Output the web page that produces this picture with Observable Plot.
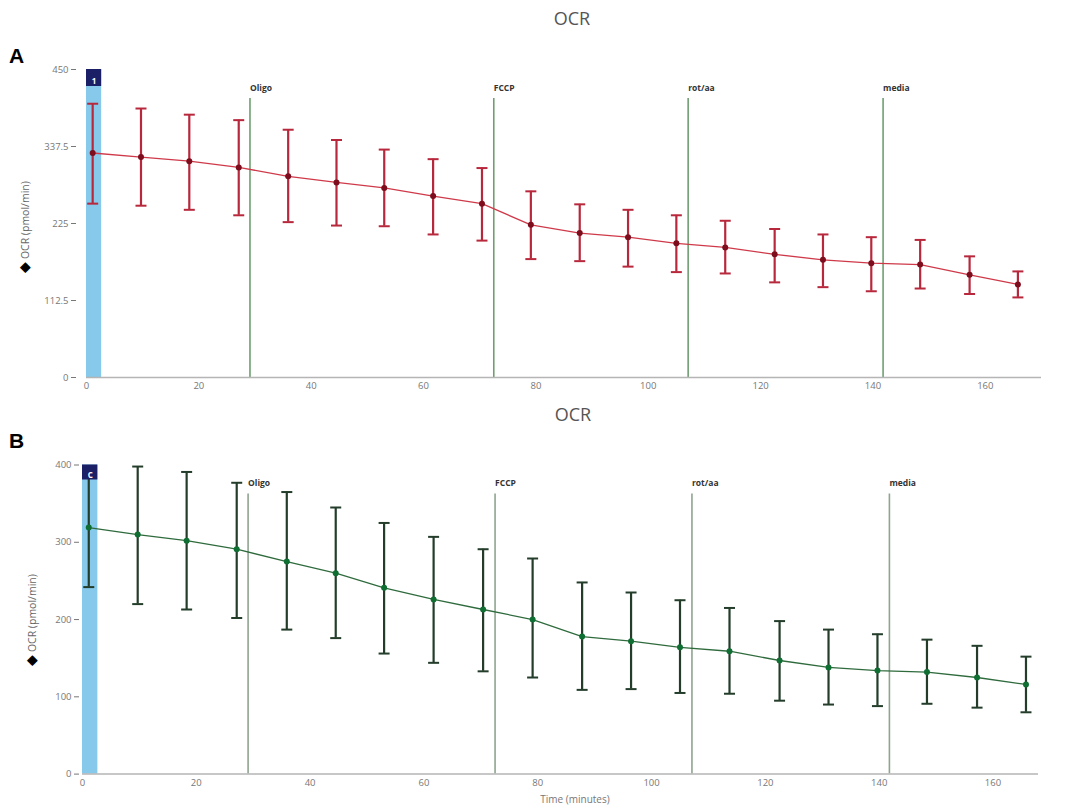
<!DOCTYPE html>
<html>
<head>
<meta charset="utf-8">
<script src="https://cdn.jsdelivr.net/npm/d3@7"></script>
<script src="https://cdn.jsdelivr.net/npm/@observablehq/plot@0.6"></script>
<style>
  html, body { margin: 0; padding: 0; background: #fff; }
  #page { position: relative; width: 1068px; height: 807px; overflow: hidden; font-family: "Open Sans", sans-serif; }
  .abs { position: absolute; white-space: nowrap; }
  .title { font-size: 18px; color: #555; text-align: center; width: 100px; line-height: 1; }
  .letter { font-family: "Liberation Sans", Arial, sans-serif; font-weight: bold; font-size: 21px; color: #000; line-height: 1; }
  .ylab { font-size: 10.5px; color: #666; transform: rotate(-90deg); transform-origin: center center; width: 160px; text-align: center; line-height: 1; }
  .ylab b { color: #000; font-size: 14px; font-weight: normal; }
  .xlab { font-size: 10px; color: #777; width: 200px; text-align: center; line-height: 1; }
</style>
</head>
<body>
<div id="page">
  <div id="panelA" class="abs" style="left:0;top:0;width:1068px;height:395px;"></div>
  <div id="panelB" class="abs" style="left:0;top:390px;width:1068px;height:417px;"></div>
  <div class="abs title" style="left:522px;top:9px;">OCR</div>
  <div class="abs title" style="left:523px;top:405px;">OCR</div>
  <div class="abs letter" style="left:9px;top:45px;">A</div>
  <div class="abs letter" style="left:9px;top:430px;">B</div>
  <div class="abs ylab" style="left:-56px;top:220px;"><b>◆</b> OCR (pmol/min)</div>
  <div class="abs ylab" style="left:-49px;top:613px;"><b>◆</b> OCR (pmol/min)</div>
  <div class="abs xlab" style="left:475px;top:794px;">Time (minutes)</div>
</div>
<script>
// ---- data ----
const times = [1.1, 9.7, 18.3, 27.1, 35.9, 44.5, 53.0, 61.7, 70.4, 79.1, 87.8, 96.4, 105.0, 113.7, 122.5, 131.1, 139.7, 148.4, 157.2, 165.8];

const ocrA = [328, 322, 316, 307, 294, 285, 277, 265, 254, 223, 211, 205, 196, 190, 180, 172, 167, 165, 150, 136];
const hiA  = [400, 393, 384, 376, 362, 347, 333, 319, 306, 272, 253, 245, 237, 229, 217, 209, 205, 201, 177, 155];
const loA  = [254, 251, 245, 237, 227, 222, 221, 209, 200, 173, 170, 162, 154, 152, 139, 132, 126, 130, 122, 117];

const ocrB = [319, 310, 302, 291, 275, 260, 241, 226, 213, 200, 178, 172, 164, 159, 147, 138, 134, 132, 125, 116];
const hiB  = [396, 398, 391, 377, 365, 345, 325, 307, 291, 279, 248, 235, 225, 215, 198, 187, 181, 174, 166, 152];
const loB  = [242, 220, 213, 202, 187, 176, 156, 144, 133, 125, 109, 110, 105, 104, 95, 90, 88, 91, 86, 80];

const eventTimes = [29.1, 72.5, 107.1, 141.8];
const eventLabels = ["Oligo", "FCCP", "rot/aa", "media"];

const xTicks = [0, 20, 40, 60, 80, 100, 120, 140, 160];
const yTicksA = [0, 112.5, 225, 337.5, 450];
const yTicksB = [0, 100, 200, 300, 400];

const injectionBand = [{start: 0, end: 2.7}];
const groupLabelA = "1";
const groupLabelB = "C";

// ---- helpers ----
const capSymbol = {
  draw(ctx, size) {
    const r = Math.sqrt(size / Math.PI);
    ctx.moveTo(-r, 0);
    ctx.lineTo(r, 0);
  }
};

function makePanel(o) {
  const rows = times.map((t, i) => ({t, v: o.vals[i], hi: o.hi[i], lo: o.lo[i]}));
  const events = eventTimes.map((t, i) => ({t, label: eventLabels[i]}));
  const frameH = o.height - o.marginTop - o.marginBottom;
  return Plot.plot({
    width: 1068,
    height: o.height,
    marginTop: o.marginTop,
    marginBottom: o.marginBottom,
    marginLeft: o.marginLeft,
    marginRight: o.marginRight,
    style: {fontFamily: "'Open Sans', sans-serif", fontSize: "9.5px", color: "#777", background: "transparent", overflow: "visible"},
    x: {domain: o.xDomain},
    y: {domain: o.yDomain},
    marks: [
      Plot.rect(injectionBand, {x1: "start", x2: "end", fill: "#86c9ea"}),
      Plot.ruleX(events, {x: "t", stroke: o.eventColor, strokeWidth: 1.6, insetTop: 29}),
      Plot.text(events, {x: "t", text: "label", frameAnchor: "top", textAnchor: "start", dy: 15, dx: 0,
        fontSize: 8.5, fontWeight: "bold", fill: "#333"}),
      Plot.ruleY([0], {stroke: "#b5b5b5", strokeWidth: 1.5}),
      Plot.ruleX(rows, {x: "t", y1: "lo", y2: "hi", stroke: o.barColor, strokeWidth: 2.2}),
      Plot.dot(rows, {x: "t", y: "hi", symbol: capSymbol, r: 5.5, stroke: o.barColor, strokeWidth: 2, fill: "none"}),
      Plot.dot(rows, {x: "t", y: "lo", symbol: capSymbol, r: 5.5, stroke: o.barColor, strokeWidth: 2, fill: "none"}),
      Plot.line(rows, {x: "t", y: "v", stroke: o.lineColor, strokeWidth: 1.3}),
      Plot.dot(rows, {x: "t", y: "v", r: 3, fill: o.dotColor, stroke: "none"}),
      Plot.rect(injectionBand, {x1: "start", x2: "end", fill: "#1b1f66", insetBottom: frameH - o.boxH}),
      Plot.text(injectionBand, {x: d => (d.start + d.end) / 2, text: () => o.groupLabel, frameAnchor: "top",
        dy: o.boxH / 2, fill: "white", fontSize: 8, fontWeight: "bold"}),
      Plot.axisX({ticks: xTicks, tickSize: 0, tickPadding: 5, label: null, tickFormat: d => String(d)}),
      Plot.axisY({ticks: o.yTicks, tickSize: 5, tickPadding: 3, dx: o.axisDx, label: null, tickFormat: d => String(d)})
    ]
  });
}

document.getElementById("panelA").append(makePanel({
  vals: ocrA, hi: hiA, lo: loA,
  yDomain: [0, 450], yTicks: yTicksA, xDomain: [0, 170],
  height: 395, marginTop: 69, marginBottom: 18, marginLeft: 86, marginRight: 27,
  lineColor: "#cf3a4a", barColor: "#b8283c", dotColor: "#7d0c1c", eventColor: "#6f9f70",
  boxH: 17, groupLabel: groupLabelA, axisDx: -10
}));

document.getElementById("panelB").append(makePanel({
  vals: ocrB, hi: hiB, lo: loB,
  yDomain: [0, 400], yTicks: yTicksB, xDomain: [0, 168],
  height: 417, marginTop: 74.5, marginBottom: 33.4, marginLeft: 82, marginRight: 30,
  lineColor: "#2f6b3d", barColor: "#233d2a", dotColor: "#0f6e32", eventColor: "#8ea58f",
  boxH: 15, groupLabel: groupLabelB, axisDx: -3
}));
</script>
</body>
</html>
